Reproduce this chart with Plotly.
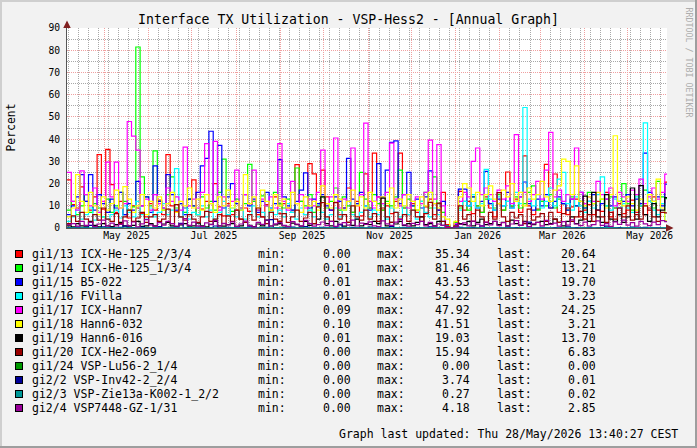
import plotly.graph_objects as go
import pandas as pd

# ---------------- data ----------------
START = "2025-04-05 00:00"
END = "2026-05-28 13:40"
STEP_DAYS = 3

names = ["gi1/13 ICX-He-125_2/3/4", "gi1/14 ICX-He-125_1/3/4", "gi1/15 B5-022",
         "gi1/16 FVilla", "gi1/17 ICX-Hann7", "gi1/18 Hann6-032", "gi1/19 Hann6-016",
         "gi1/20 ICX-He2-069", "gi1/24 VSP-Lu56-2_1/4", "gi2/2 VSP-Inv42-2_2/4",
         "gi2/3 VSP-Zie13a-K002-1_2/2", "gi2/4 VSP7448-GZ-1/31"]
colors = ["#FF0000", "#00FF00", "#0000FF", "#00FFFF", "#FF00FF", "#FFFF00", "#000000",
          "#990000", "#009900", "#000099", "#009999", "#990099"]
mins = ["0.00", "0.01", "0.01", "0.01", "0.09", "0.10", "0.01", "0.00", "0.00", "0.00", "0.00", "0.00"]
maxs = ["35.34", "81.46", "43.53", "54.22", "47.92", "41.51", "19.03", "15.94", "0.00", "3.74", "0.27", "4.18"]
lasts = ["20.64", "13.21", "19.70", "3.23", "24.25", "3.21", "13.70", "6.83", "0.00", "0.01", "0.02", "2.85"]

gi1_13 = [21.7, 10.5, 9.0, 18.5, 12.0, 8.0, 14.0, 33.0, 8.5, 35.34,
          19.5, 7.0, 12.0, 6.0, 4.5, 10.0, 9.0, 6.5, 5.0, 11.0,
          8.0, 12.5, 6.0, 33.0, 10.0, 7.5, 5.0, 9.0, 13.0, 21.7,
          6.0, 8.5, 12.0, 7.0, 20.0, 9.5, 5.5, 11.0, 6.0, 8.0,
          4.0, 9.0, 7.5, 12.0, 6.0, 5.0, 10.5, 8.0, 14.0, 6.5,
          11.0, 9.0, 7.0, 28.5, 12.0, 6.0, 29.0, 24.4, 10.0, 26.0,
          14.0, 8.0, 11.5, 6.0, 9.0, 18.0, 7.0, 12.0, 5.5, 24.4,
          9.0, 33.7, 14.0, 8.0, 10.0, 6.5, 12.0, 33.7, 9.0, 6.0,
          11.0, 7.0, 5.0, 9.5, 13.0, 6.0, 8.0, 16.0, 1.5, 0.0,
          2.0, 16.5, 8.0, 12.0, 6.5, 10.0, 7.0, 14.0, 9.0, 5.0,
          11.0, 8.0, 25.2, 9.5, 13.0, 7.0, 32.5, 10.0, 6.0, 8.5,
          12.0, 28.6, 9.0, 24.3, 7.0, 11.0, 6.0, 9.5, 13.0, 5.0,
          8.0, 10.5, 6.0, 12.0, 7.5, 16.0, 5.0, 9.0, 11.0, 6.5,
          8.0, 12.5, 7.0, 10.0, 6.0, 9.0, 14.0, 8.0, 11.0, 20.64]

gi1_14 = [8.0, 12.0, 6.0, 10.0, 15.0, 7.0, 11.0, 9.0, 5.0, 13.0,
          7.0, 10.0, 16.0, 12.0, 8.0, 9.5, 81.46, 23.0, 14.0, 10.0,
          34.7, 12.0, 8.0, 15.0, 23.0, 9.0, 11.0, 7.0, 13.0, 10.0,
          6.0, 14.0, 9.0, 12.0, 8.0, 16.0, 31.0, 10.0, 7.5, 13.0,
          9.0, 11.0, 28.6, 12.0, 8.0, 14.5, 10.0, 7.0, 16.0, 11.0,
          9.0, 13.0, 8.0, 27.0, 12.0, 10.0, 15.0, 7.0, 11.0, 14.0,
          9.0, 12.0, 18.0, 8.0, 14.0, 10.0, 7.0, 11.0, 25.0, 13.0,
          9.0, 15.0, 11.0, 8.0, 12.0, 10.0, 14.0, 26.0, 9.0, 13.0,
          10.0, 8.0, 12.0, 16.0, 9.0, 23.0, 11.0, 7.0, 1.0, 0.01,
          2.5, 9.0, 12.0, 8.0, 14.0, 10.0, 7.0, 13.0, 11.0, 9.0,
          15.0, 8.0, 12.0, 10.0, 14.0, 9.0, 11.0, 16.0, 19.0, 8.0,
          12.0, 10.0, 15.0, 9.0, 13.0, 11.0, 8.0, 14.0, 10.0, 12.0,
          9.0, 16.0, 11.0, 8.0, 13.0, 10.0, 14.0, 9.0, 12.0, 20.0,
          11.0, 8.0, 15.0, 10.0, 17.0, 12.0, 9.0, 21.0, 14.0, 13.21]

gi1_15 = [6.0, 10.0, 14.0, 24.0, 12.0, 24.0, 8.0, 15.0, 11.0, 7.0,
          13.0, 9.0, 16.0, 6.0, 11.0, 8.0, 21.0, 10.0, 14.0, 7.0,
          28.0, 12.0, 9.0, 24.0, 15.0, 8.0, 11.0, 6.0, 13.0, 10.0,
          16.0, 28.0, 31.3, 43.53, 12.0, 37.2, 9.0, 14.0, 20.0, 11.0,
          8.0, 15.0, 10.0, 13.0, 7.0, 12.0, 16.0, 9.0, 11.0, 30.8,
          14.0, 10.0, 8.0, 12.0, 17.0, 24.8, 9.0, 13.0, 11.0, 15.0,
          10.0, 8.0, 14.0, 12.0, 9.0, 31.3, 13.0, 11.0, 16.0, 10.0,
          8.0, 12.0, 29.0, 14.0, 26.0, 38.5, 39.2, 11.0, 15.0, 25.0,
          10.0, 13.0, 9.0, 14.0, 25.7, 11.0, 8.0, 12.0, 0.8, 0.01,
          1.5, 17.5, 17.5, 10.0, 14.0, 9.0, 12.0, 25.5, 11.0, 8.0,
          13.0, 10.0, 16.0, 9.0, 12.0, 14.0, 20.7, 11.0, 8.0, 13.0,
          10.0, 15.0, 9.0, 12.0, 14.0, 11.0, 8.0, 13.0, 10.0, 16.0,
          9.0, 12.0, 15.0, 8.0, 11.0, 13.0, 10.0, 14.0, 9.0, 12.0,
          15.0, 10.0, 13.0, 11.0, 33.7, 16.0, 12.0, 14.0, 10.0, 19.70]

gi1_16 = [3.0, 5.0, 8.0, 4.0, 6.0, 9.0, 3.5, 7.0, 5.0, 4.0,
          6.0, 8.0, 4.5, 10.0, 7.0, 5.0, 12.0, 6.0, 4.0, 9.0,
          5.0, 7.0, 11.0, 6.0, 8.0, 26.7, 5.0, 9.0, 4.0, 7.0,
          6.0, 10.0, 5.0, 8.0, 4.0, 7.0, 12.0, 6.0, 9.0, 5.0,
          8.0, 4.0, 6.0, 10.0, 5.0, 7.0, 3.5, 9.0, 6.0, 8.0,
          5.0, 11.0, 7.0, 4.0, 9.0, 6.0, 8.0, 5.0, 10.0, 7.0,
          4.0, 6.0, 9.0, 5.0, 8.0, 12.0, 6.0, 4.0, 7.0, 10.0,
          5.0, 8.0, 6.0, 11.0, 4.0, 9.0, 7.0, 5.0, 10.0, 6.0,
          8.0, 4.0, 12.0, 7.0, 5.0, 9.0, 6.0, 3.0, 0.5, 0.01,
          1.0, 8.0, 12.0, 10.0, 15.0, 9.0, 11.0, 26.4, 13.0, 8.0,
          14.0, 10.0, 12.0, 9.0, 16.0, 11.0, 54.22, 13.0, 10.0, 15.0,
          9.0, 12.0, 18.0, 10.0, 22.0, 25.0, 11.0, 8.0, 14.0, 10.0,
          7.0, 12.0, 9.0, 15.0, 23.0, 10.0, 8.0, 13.0, 6.0, 11.0,
          9.0, 7.0, 14.0, 10.0, 47.3, 12.0, 8.0, 6.0, 11.0, 3.23]

gi1_17 = [25.0, 12.0, 8.0, 25.7, 15.0, 10.0, 18.0, 7.0, 12.0, 29.6,
          14.0, 29.6, 9.0, 11.0, 47.92, 41.3, 35.0, 10.0, 13.0, 8.0,
          15.0, 11.0, 9.0, 18.0, 12.0, 14.0, 8.0, 36.4, 10.0, 13.0,
          9.0, 16.0, 38.0, 11.0, 39.0, 8.0, 14.0, 10.0, 12.0, 26.0,
          9.0, 15.0, 11.0, 26.0, 8.0, 13.0, 10.0, 14.0, 9.0, 38.0,
          12.0, 8.0, 21.0, 11.0, 15.0, 9.0, 13.0, 10.0, 16.0, 35.0,
          11.0, 14.0, 40.5, 9.0, 13.0, 12.0, 36.0, 10.0, 15.0, 47.2,
          12.0, 9.0, 14.0, 11.0, 16.0, 38.2, 13.0, 10.0, 15.0, 9.0,
          12.0, 14.0, 11.0, 16.0, 39.5, 13.0, 37.5, 10.0, 0.5, 0.09,
          2.0, 12.0, 16.0, 14.0, 30.0, 36.0, 15.0, 18.0, 15.0, 12.0,
          17.0, 13.0, 19.0, 11.0, 42.0, 14.0, 16.0, 12.0, 15.0, 21.0,
          13.0, 26.0, 43.0, 14.0, 17.0, 12.0, 15.0, 13.0, 36.0, 16.0,
          11.0, 14.0, 12.0, 21.0, 15.0, 13.0, 18.0, 10.0, 16.0, 14.0,
          12.0, 17.0, 15.0, 22.0, 11.0, 14.0, 18.0, 13.0, 16.0, 24.25]

gi1_18 = [5.0, 9.0, 24.0, 12.0, 7.0, 16.0, 10.0, 6.0, 14.0, 8.0,
          11.0, 17.0, 9.0, 18.6, 13.0, 7.0, 10.0, 15.0, 6.0, 12.0,
          9.0, 14.0, 8.0, 11.0, 16.0, 7.0, 12.0, 10.0, 18.0, 9.0,
          13.0, 8.0, 15.0, 11.0, 7.0, 14.0, 10.0, 17.0, 9.0, 12.0,
          8.0, 24.0, 11.0, 14.0, 9.0, 17.0, 12.0, 8.0, 15.0, 10.0,
          13.0, 9.0, 16.0, 11.0, 7.0, 14.0, 10.0, 12.0, 8.0, 19.0,
          11.0, 9.0, 15.0, 13.0, 8.0, 12.0, 17.0, 10.0, 14.0, 9.0,
          16.0, 12.0, 8.0, 14.0, 11.0, 18.0, 9.0, 13.0, 10.0, 15.0,
          12.0, 8.0, 14.0, 10.0, 16.0, 11.0, 9.0, 5.0, 4.0, 0.10,
          3.0, 14.0, 20.0, 18.0, 12.0, 16.0, 10.0, 15.0, 19.0, 13.0,
          11.0, 17.0, 14.0, 20.0, 12.0, 16.0, 10.0, 18.0, 13.0, 15.0,
          21.0, 14.0, 12.0, 17.0, 19.0, 31.0, 30.0, 15.0, 28.0, 12.0,
          10.0, 14.0, 11.0, 16.0, 13.0, 9.0, 15.0, 41.51, 12.0, 10.0,
          14.0, 11.0, 8.0, 13.0, 10.0, 15.0, 12.0, 22.0, 9.0, 3.21]

gi1_19 = [1.0, 0.5, 2.0, 1.0, 0.8, 3.0, 1.2, 0.5, 2.0, 1.0,
          0.6, 1.5, 2.5, 1.0, 0.8, 1.2, 3.0, 0.7, 1.0, 2.0,
          1.0, 0.5, 1.8, 2.5, 1.0, 0.6, 1.4, 2.0, 0.8, 1.0,
          2.2, 1.0, 0.5, 1.6, 3.0, 1.0, 0.8, 1.5, 2.0, 0.7,
          1.0, 2.5, 1.2, 0.6, 1.8, 1.0, 3.5, 0.9, 1.4, 2.0,
          1.0, 0.7, 2.2, 1.5, 0.8, 3.0, 1.2, 2.0, 4.0, 14.0,
          2.0, 1.0, 3.0, 1.5, 0.8, 2.5, 1.2, 4.0, 1.0, 2.0,
          1.5, 3.0, 2.0, 13.4, 1.0, 2.5, 1.8, 3.0, 1.2, 2.0,
          1.0, 2.5, 5.0, 1.5, 2.0, 1.0, 3.0, 1.2, 0.2, 0.01,
          0.5, 2.0, 1.5, 3.0, 1.0, 2.5, 4.0, 1.5, 2.0, 3.0,
          1.5, 2.5, 1.0, 3.5, 2.0, 1.2, 3.0, 2.0, 1.5, 2.5,
          3.0, 1.5, 2.0, 4.0, 2.5, 1.0, 3.0, 5.0, 2.0, 3.5,
          14.3, 3.0, 16.0, 5.0, 2.5, 15.0, 4.0, 3.0, 6.0, 2.5,
          5.0, 18.0, 4.0, 19.03, 6.0, 3.0, 11.0, 5.0, 8.0, 13.70]

gi1_20 = [2.0, 5.5, 3.0, 7.0, 4.0, 2.5, 6.0, 3.5, 9.0, 4.0,
          3.0, 6.5, 2.0, 5.0, 8.0, 3.0, 4.5, 7.0, 2.5, 5.0,
          6.0, 3.0, 4.0, 8.5, 2.0, 10.5, 5.0, 3.5, 6.0, 4.0,
          2.5, 5.0, 7.5, 3.0, 4.0, 6.0, 2.0, 5.5, 3.0, 8.0,
          4.0, 2.5, 6.0, 3.5, 9.0, 5.0, 2.0, 7.0, 4.0, 3.0,
          6.5, 2.5, 5.0, 8.0, 3.0, 4.5, 7.0, 2.0, 9.5, 11.4,
          5.0, 3.0, 11.4, 4.0, 6.0, 2.5, 10.0, 5.0, 3.5, 8.0,
          4.0, 6.5, 3.0, 9.0, 5.0, 2.5, 7.0, 4.0, 6.0, 3.0,
          8.0, 5.0, 3.0, 6.5, 11.5, 4.0, 11.2, 3.0, 0.5, 0.0,
          1.0, 10.0, 4.0, 6.0, 3.0, 8.0, 5.0, 2.5, 7.0, 4.0,
          15.94, 5.0, 3.0, 7.0, 4.5, 6.0, 2.0, 8.5, 3.5, 5.0,
          6.5, 3.0, 7.0, 4.0, 2.5, 6.5, 9.0, 3.0, 5.0, 7.5,
          4.0, 6.0, 3.0, 8.0, 5.0, 2.5, 7.0, 4.0, 9.0, 5.0,
          10.0, 3.5, 6.0, 4.0, 10.0, 8.0, 5.0, 3.0, 7.0, 6.83]

gi1_24 = [0.0, 0.0, 0.0, 0.0, 0.0, 0.0, 0.0, 0.0, 0.0, 0.0,
          0.0, 0.0, 0.0, 0.0, 0.0, 0.0, 0.0, 0.0, 0.0, 0.0,
          0.0, 0.0, 0.0, 0.0, 0.0, 0.0, 0.0, 0.0, 0.0, 0.0,
          0.0, 0.0, 0.0, 0.0, 0.0, 0.0, 0.0, 0.0, 0.0, 0.0,
          0.0, 0.0, 0.0, 0.0, 0.0, 0.0, 0.0, 0.0, 0.0, 0.0,
          0.0, 0.0, 0.0, 0.0, 0.0, 0.0, 0.0, 0.0, 0.0, 0.0,
          0.0, 0.0, 0.0, 0.0, 0.0, 0.0, 0.0, 0.0, 0.0, 0.0,
          0.0, 0.0, 0.0, 0.0, 0.0, 0.0, 0.0, 0.0, 0.0, 0.0,
          0.0, 0.0, 0.0, 0.0, 0.0, 0.0, 0.0, 0.0, 0.0, 0.0,
          0.0, 0.0, 0.0, 0.0, 0.0, 0.0, 0.0, 0.0, 0.0, 0.0,
          0.0, 0.0, 0.0, 0.0, 0.0, 0.0, 0.0, 0.0, 0.0, 0.0,
          0.0, 0.0, 0.0, 0.0, 0.0, 0.0, 0.0, 0.0, 0.0, 0.0,
          0.0, 0.0, 0.0, 0.0, 0.0, 0.0, 0.0, 0.0, 0.0, 0.0,
          0.0, 0.0, 0.0, 0.0, 0.0, 0.0, 0.0, 0.0, 0.0, 0.0]

gi2_2 = [0.2, 0.1, 0.4, 0.0, 0.3, 1.2, 0.1, 0.0, 0.5, 0.2,
         0.1, 0.0, 0.3, 0.8, 0.1, 0.2, 0.0, 0.4, 0.1, 0.0,
         0.2, 0.6, 0.1, 0.0, 0.3, 0.1, 2.1, 0.2, 0.0, 0.1,
         0.4, 0.1, 0.0, 0.2, 0.9, 0.1, 0.0, 0.3, 0.1, 0.2,
         0.0, 0.1, 0.5, 0.2, 0.0, 0.1, 0.3, 3.74, 0.1, 0.0,
         0.2, 0.1, 0.4, 0.0, 0.1, 0.6, 0.2, 0.0, 0.1, 0.3,
         0.1, 0.0, 0.2, 1.5, 0.1, 0.0, 0.3, 0.1, 0.2, 0.0,
         0.4, 0.1, 0.0, 0.2, 0.1, 0.7, 0.0, 0.1, 0.3, 0.1,
         0.0, 0.2, 0.1, 0.0, 0.5, 0.1, 0.2, 0.0, 0.0, 0.0,
         0.1, 0.3, 0.0, 0.1, 0.2, 0.0, 1.0, 0.1, 0.0, 0.2,
         0.1, 0.0, 0.4, 0.1, 0.2, 0.0, 0.1, 2.6, 0.0, 0.1,
         0.3, 0.1, 0.0, 0.2, 0.1, 0.0, 0.5, 0.1, 0.2, 0.0,
         0.1, 0.3, 0.0, 0.1, 0.2, 0.8, 0.0, 0.1, 0.2, 0.0,
         0.1, 0.4, 0.0, 0.1, 0.3, 0.0, 0.2, 0.1, 0.0, 0.01]

gi2_3 = [0.02, 0.05, 0.01, 0.08, 0.03, 0.00, 0.12, 0.04, 0.02, 0.06,
         0.01, 0.09, 0.03, 0.00, 0.05, 0.02, 0.15, 0.04, 0.01, 0.07,
         0.03, 0.00, 0.06, 0.02, 0.10, 0.04, 0.01, 0.05, 0.27, 0.03,
         0.02, 0.08, 0.00, 0.04, 0.06, 0.01, 0.03, 0.11, 0.02, 0.05,
         0.04, 0.01, 0.07, 0.03, 0.00, 0.09, 0.02, 0.05, 0.03, 0.14,
         0.01, 0.06, 0.04, 0.02, 0.08, 0.00, 0.03, 0.05, 0.01, 0.10,
         0.02, 0.04, 0.00, 0.07, 0.03, 0.05, 0.01, 0.12, 0.02, 0.06,
         0.04, 0.00, 0.08, 0.03, 0.05, 0.01, 0.18, 0.02, 0.04, 0.06,
         0.01, 0.03, 0.05, 0.00, 0.07, 0.02, 0.04, 0.01, 0.00, 0.00,
         0.02, 0.06, 0.03, 0.05, 0.01, 0.09, 0.04, 0.02, 0.07, 0.03,
         0.05, 0.01, 0.08, 0.03, 0.00, 0.06, 0.20, 0.02, 0.04, 0.01,
         0.07, 0.03, 0.05, 0.00, 0.09, 0.02, 0.04, 0.06, 0.01, 0.03,
         0.08, 0.02, 0.05, 0.00, 0.04, 0.13, 0.03, 0.06, 0.01, 0.05,
         0.02, 0.07, 0.04, 0.00, 0.06, 0.03, 0.09, 0.01, 0.04, 0.02]

gi2_4 = [1.5, 2.0, 0.8, 3.0, 1.2, 2.5, 0.6, 1.8, 3.5, 1.0,
         2.2, 0.9, 1.6, 3.2, 1.1, 2.7, 0.5, 1.9, 3.8, 1.4,
         0.7, 2.4, 1.3, 3.0, 2.0, 0.8, 1.7, 4.18, 1.2, 2.6,
         1.0, 0.6, 2.3, 1.5, 3.3, 0.9, 2.1, 1.4, 2.8, 0.7,
         1.8, 3.1, 1.1, 0.5, 2.5, 1.6, 3.6, 0.9, 1.9, 2.4,
         1.2, 0.6, 2.9, 1.7, 1.0, 3.4, 2.0, 0.8, 1.5, 2.7,
         1.1, 3.0, 0.7, 1.8, 2.4, 1.3, 3.5, 0.9, 2.2, 1.6,
         2.8, 1.0, 0.6, 3.2, 1.9, 1.2, 2.6, 3.9, 1.4, 0.8,
         2.1, 1.5, 3.0, 1.0, 2.5, 0.7, 1.8, 1.2, 0.2, 0.0,
         0.5, 1.6, 2.3, 1.0, 3.1, 1.7, 0.8, 2.6, 1.4, 3.0,
         1.1, 2.4, 0.9, 1.8, 3.3, 1.2, 2.7, 0.6, 1.9, 2.5,
         1.0, 3.4, 1.6, 2.2, 0.8, 2.9, 1.3, 3.7, 1.8, 1.1,
         2.6, 0.9, 1.5, 3.2, 1.2, 2.0, 0.7, 2.8, 1.6, 3.5,
         1.3, 2.4, 0.8, 3.0, 1.9, 1.1, 2.6, 1.5, 3.3, 2.85]

series = [gi1_13, gi1_14, gi1_15, gi1_16, gi1_17, gi1_18, gi1_19,
          gi1_20, gi1_24, gi2_2, gi2_3, gi2_4]
for s in series:
    assert len(s) == 140, len(s)

x_label_vals = ["2025-05-16 12:00", "2025-07-16 12:00", "2025-09-16 00:00",
                "2025-11-16 00:00", "2026-01-16 12:00", "2026-03-16 12:00",
                "2026-05-16 12:00"]
x_label_text = ["May 2025", "Jul 2025", "Sep 2025", "Nov 2025", "Jan 2026",
                "Mar 2026", "May 2026"]
y_ticks = [0, 10, 20, 30, 40, 50, 60, 70, 80, 90]

TITLE = "Interface TX Utilization - VSP-Hess2 - [Annual Graph]"
UPDATED = "Graph last updated: Thu 28/May/2026 13:40:27 CEST"

# ---------------- figure ----------------
W, H = 697, 448
L, R, T, B = 67, 667, 28, 228
MONO = "DejaVu Sans Mono"
MGRID = "#F0A0A0"
GRID = "#A8A8A8"


def fx(px):
    return (px - L) / (R - L)


def fy(py):
    return (B - py) / (B - T)


dates = pd.date_range(START, periods=len(gi1_13), freq=f"{STEP_DAYS}D")
x_edges = list(dates) + [pd.Timestamp(END)]
month_starts = pd.date_range("2025-05-01", "2026-05-01", freq="MS")

fig = go.Figure()
n = len(series)
for k, (name, color, vals) in enumerate(zip(names, colors, series)):
    fig.add_trace(go.Scatter(
        x=x_edges, y=list(vals) + [vals[-1]], mode="lines", name=name,
        line=dict(color=color, width=1.2, shape="hv"), hoverinfo="skip",
        showlegend=False, xaxis="x2" if k == n - 1 else "x"))

fig.update_layout(
    width=W, height=H,
    margin=dict(l=L, r=W - R, t=T, b=H - B, pad=0),
    paper_bgcolor="#F2F2F2", plot_bgcolor="#FFFFFF",
    font=dict(family=MONO, color="#000000"),
    showlegend=False,
    title=dict(text=TITLE, x=0.5, xref="container", xanchor="center",
               y=1 - 19 / H, yref="container", yanchor="middle",
               font=dict(family=MONO, size=13.2, color="#000000")),
    xaxis=dict(type="date", range=[START, END], tickmode="array",
               tickvals=list(month_starts), ticktext=[""] * len(month_starts),
               showgrid=True, gridcolor=MGRID, gridwidth=1, griddash="1px,1px",
               minor=dict(dtick=7 * 86400000, tick0="2025-04-06", showgrid=True,
                          gridcolor=GRID, gridwidth=1, griddash="1px,1px"),
               showline=True, linecolor="#555555", linewidth=1,
               ticks="", zeroline=False, fixedrange=True),
    xaxis2=dict(type="date", range=[START, END], overlaying="x", side="bottom",
                anchor="y", matches="x", tickmode="array", tickvals=x_label_vals,
                ticktext=x_label_text, showgrid=False, showline=False,
                ticks="", tickfont=dict(family=MONO, size=9.7, color="#000000"),
                zeroline=False),
    yaxis=dict(range=[0, 90], tickmode="array", tickvals=y_ticks,
               showgrid=True, gridcolor=MGRID, gridwidth=1, griddash="1px,1px",
               minor=dict(dtick=5, tick0=0, showgrid=True, gridcolor=GRID,
                          gridwidth=1, griddash="1px,1px"),
               showline=True, linecolor="#555555", linewidth=1,
               ticks="", zeroline=False,
               tickfont=dict(family=MONO, size=9.7, color="#000000"),
               ticklabelstandoff=4),
)

ann = []
# y-axis unit label
ann.append(dict(text="Percent", x=fx(10.5), y=fy(128), xref="paper", yref="paper",
                showarrow=False, textangle=-90, xanchor="center", yanchor="middle",
                font=dict(family=MONO, size=11.4, color="#000000")))
# watermark
ann.append(dict(text="RRDTOOL / TOBI OETIKER", x=fx(688.5), y=fy(62), xref="paper",
                yref="paper", showarrow=False, textangle=90,
                xanchor="center", yanchor="middle",
                font=dict(family=MONO, size=8.3, color="#ADADAD")))
# axis arrows
ann.append(dict(text="", x=fx(L), y=fy(20.5), xref="paper", yref="paper",
                showarrow=True, ax=0, ay=9, arrowhead=2, arrowsize=1.5,
                arrowwidth=1, arrowcolor="#801F1F"))
ann.append(dict(text="", x=fx(673.5), y=fy(B), xref="paper", yref="paper",
                showarrow=True, ax=-9, ay=0, arrowhead=2, arrowsize=1.5,
                arrowwidth=1, arrowcolor="#801F1F"))

# legend rows
LF = dict(family=MONO, size=11.5, color="#000000")
for k, (name, color, mn, mx, la) in enumerate(zip(names, colors, mins, maxs, lasts)):
    yc = 254.3 + 14.0 * k
    ann.append(dict(text=" ", x=fx(19), y=fy(yc), xref="paper", yref="paper",
                    showarrow=False, width=6, height=6, bgcolor=color,
                    bordercolor="#000000", borderwidth=1, borderpad=0,
                    xanchor="center", yanchor="middle", font=dict(size=4)))
    ann.append(dict(text=name, x=fx(30.2), y=fy(yc), xref="paper", yref="paper",
                    showarrow=False, xanchor="left", yanchor="middle", font=LF))
    ann.append(dict(text="min:", x=fx(256), y=fy(yc), xref="paper", yref="paper",
                    showarrow=False, xanchor="left", yanchor="middle", font=LF))
    ann.append(dict(text=mn, x=fx(353.3), y=fy(yc), xref="paper", yref="paper",
                    showarrow=False, xanchor="right", yanchor="middle", font=LF))
    ann.append(dict(text="max:", x=fx(374.7), y=fy(yc), xref="paper", yref="paper",
                    showarrow=False, xanchor="left", yanchor="middle", font=LF))
    ann.append(dict(text=mx, x=fx(472), y=fy(yc), xref="paper", yref="paper",
                    showarrow=False, xanchor="right", yanchor="middle", font=LF))
    ann.append(dict(text="last:", x=fx(494.7), y=fy(yc), xref="paper", yref="paper",
                    showarrow=False, xanchor="left", yanchor="middle", font=LF))
    ann.append(dict(text=la, x=fx(597.8), y=fy(yc), xref="paper", yref="paper",
                    showarrow=False, xanchor="right", yanchor="middle", font=LF))

ann.append(dict(text=UPDATED, x=fx(680), y=fy(434), xref="paper", yref="paper",
                showarrow=False, xanchor="right", yanchor="middle", font=LF))
fig.update_layout(annotations=ann)

# frame shading (rrdtool style 3D border)
shapes = [
    dict(type="rect", xref="paper", yref="paper", x0=fx(0), x1=fx(W), y0=fy(0), y1=fy(2),
         fillcolor="#CFCFCF", line=dict(width=0), layer="above"),
    dict(type="rect", xref="paper", yref="paper", x0=fx(0), x1=fx(2), y0=fy(0), y1=fy(H),
         fillcolor="#CFCFCF", line=dict(width=0), layer="above"),
    dict(type="rect", xref="paper", yref="paper", x0=fx(W - 2), x1=fx(W), y0=fy(0), y1=fy(H),
         fillcolor="#9E9E9E", line=dict(width=0), layer="above"),
    dict(type="rect", xref="paper", yref="paper", x0=fx(0), x1=fx(W), y0=fy(H - 2), y1=fy(H),
         fillcolor="#9E9E9E", line=dict(width=0), layer="above"),
]
fig.update_layout(shapes=shapes)

fig.write_html("out.html")
